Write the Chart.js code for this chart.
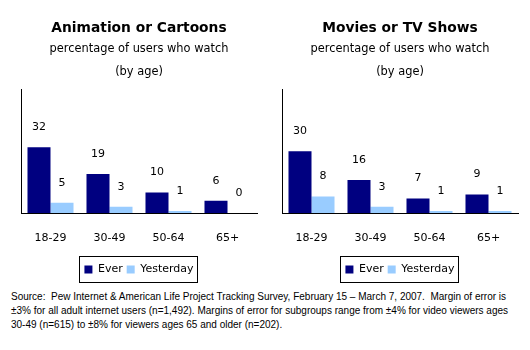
<!DOCTYPE html>
<html>
<head>
<meta charset="utf-8">
<script src="https://cdn.jsdelivr.net/npm/chart.js@4.4.1/dist/chart.umd.min.js"></script>
<style>
  body { margin: 0; background: #fff; width: 530px; height: 350px; position: relative; overflow: hidden; }
  .box { position: absolute; top: 0; width: 265px; height: 285px; }
  #fuente { position: absolute; left: 11px; top: 290px; width: 515px; font: 10px "Liberation Sans", Arial, sans-serif; line-height: 14px; color: #000; white-space: nowrap; }
</style>
</head>
<body>
<div class="box" style="left:0"><canvas id="graficoAnimacion" width="265" height="285"></canvas></div>
<div class="box" style="left:261px"><canvas id="graficoPeliculas" width="265" height="285"></canvas></div>
<div id="fuente">Source:&nbsp; Pew Internet &amp; American Life Project Tracking Survey, February 15 – March 7, 2007.&nbsp; Margin of error is<br>±3% for all adult internet users (n=1,492). Margins of error for subgroups range from ±4% for video viewers ages<br>30-49 (n=615) to ±8% for viewers ages 65 and older (n=202).</div>
<script>
// Datos del gráfico
const edades = ['18-29', '30-49', '50-64', '65+'];
const animacionEver = [32, 19, 10, 6];
const animacionAyer = [5, 3, 1, 0];
const peliculasEver = [30, 16, 7, 9];
const peliculasAyer = [8, 3, 1, 1];

const fuenteBase = 'DejaVu Sans';

// Etiquetas de valor encima de cada barra
const etiquetasValor = {
    id: 'etiquetasValor',
    afterDatasetsDraw(chart) {
        const ctx = chart.ctx;
        ctx.save();
        ctx.font = '11px "' + fuenteBase + '"';
        ctx.fillStyle = '#000';
        ctx.textAlign = 'center';
        ctx.textBaseline = 'middle';
        chart.data.datasets.forEach((ds, i) => {
            chart.getDatasetMeta(i).data.forEach((bar, j) => {
                ctx.fillText(ds.data[j], bar.x, bar.y - 20);
            });
        });
        ctx.restore();
    }
};

// Marco negro alrededor de la leyenda
const marcoLeyenda = {
    id: 'marcoLeyenda',
    afterDraw(chart) {
        const cajas = chart.legend.legendHitBoxes;
        if (!cajas || !cajas.length) return;
        const izq = Math.min(...cajas.map(c => c.left));
        const der = Math.max(...cajas.map(c => c.left + c.width));
        const centroY = cajas[0].top + cajas[0].height / 2;
        const ctx = chart.ctx;
        ctx.save();
        ctx.strokeStyle = '#000';
        ctx.lineWidth = 1;
        ctx.strokeRect(Math.round(izq - 5) + 0.5, Math.round(centroY - 14) + 0.5, Math.round(der - izq + 9), 26);
        ctx.restore();
    }
};

function inicializarGrafico(canvasId, titulo, ever, ayer) {
    const ctx = document.getElementById(canvasId).getContext('2d');
    new Chart(ctx, {
        type: 'bar',
        data: {
            labels: edades,
            datasets: [{
                label: 'Ever',
                data: ever,
                backgroundColor: '#000080'
            }, {
                label: 'Yesterday',
                data: ayer,
                backgroundColor: '#99ccff'
            }]
        },
        options: {
            responsive: false,
            animation: false,
            layout: {
                padding: { left: 21, right: 8, top: 0, bottom: 0 }
            },
            datasets: {
                bar: {
                    categoryPercentage: 0.78,
                    barPercentage: 1
                }
            },
            plugins: {
                title: {
                    display: true,
                    text: titulo,
                    color: '#000',
                    font: { family: fuenteBase, size: 13.8, weight: 'bold', lineHeight: 1.2 },
                    padding: { top: 20, bottom: 0 }
                },
                subtitle: {
                    display: true,
                    text: ['percentage of users who watch', '(by age)'],
                    color: '#000',
                    font: { family: fuenteBase, size: 11.4, lineHeight: '23px' },
                    padding: { top: 1, bottom: 6 }
                },
                legend: {
                    position: 'bottom',
                    labels: {
                        color: '#000',
                        font: { family: fuenteBase, size: 11 },
                        boxWidth: 8,
                        boxHeight: 8,
                        padding: 4
                    }
                },
                tooltip: { enabled: false }
            },
            scales: {
                y: {
                    min: 0,
                    max: 60,
                    grid: { display: false },
                    ticks: { display: false },
                    border: { color: '#000', width: 1 },
                    afterFit(scale) {
                        scale.width = 0;
                    }
                },
                x: {
                    grid: { display: false },
                    border: { color: '#000', width: 1 },
                    ticks: {
                        color: '#000',
                        font: { family: fuenteBase, size: 11 },
                        padding: 11,
                        maxRotation: 0
                    },
                    afterFit(scale) {
                        scale.height = 47;
                    }
                }
            }
        },
        plugins: [etiquetasValor, marcoLeyenda]
    });
}

inicializarGrafico('graficoAnimacion', 'Animation or Cartoons', animacionEver, animacionAyer);
inicializarGrafico('graficoPeliculas', 'Movies or TV Shows', peliculasEver, peliculasAyer);
</script>
</body>
</html>
